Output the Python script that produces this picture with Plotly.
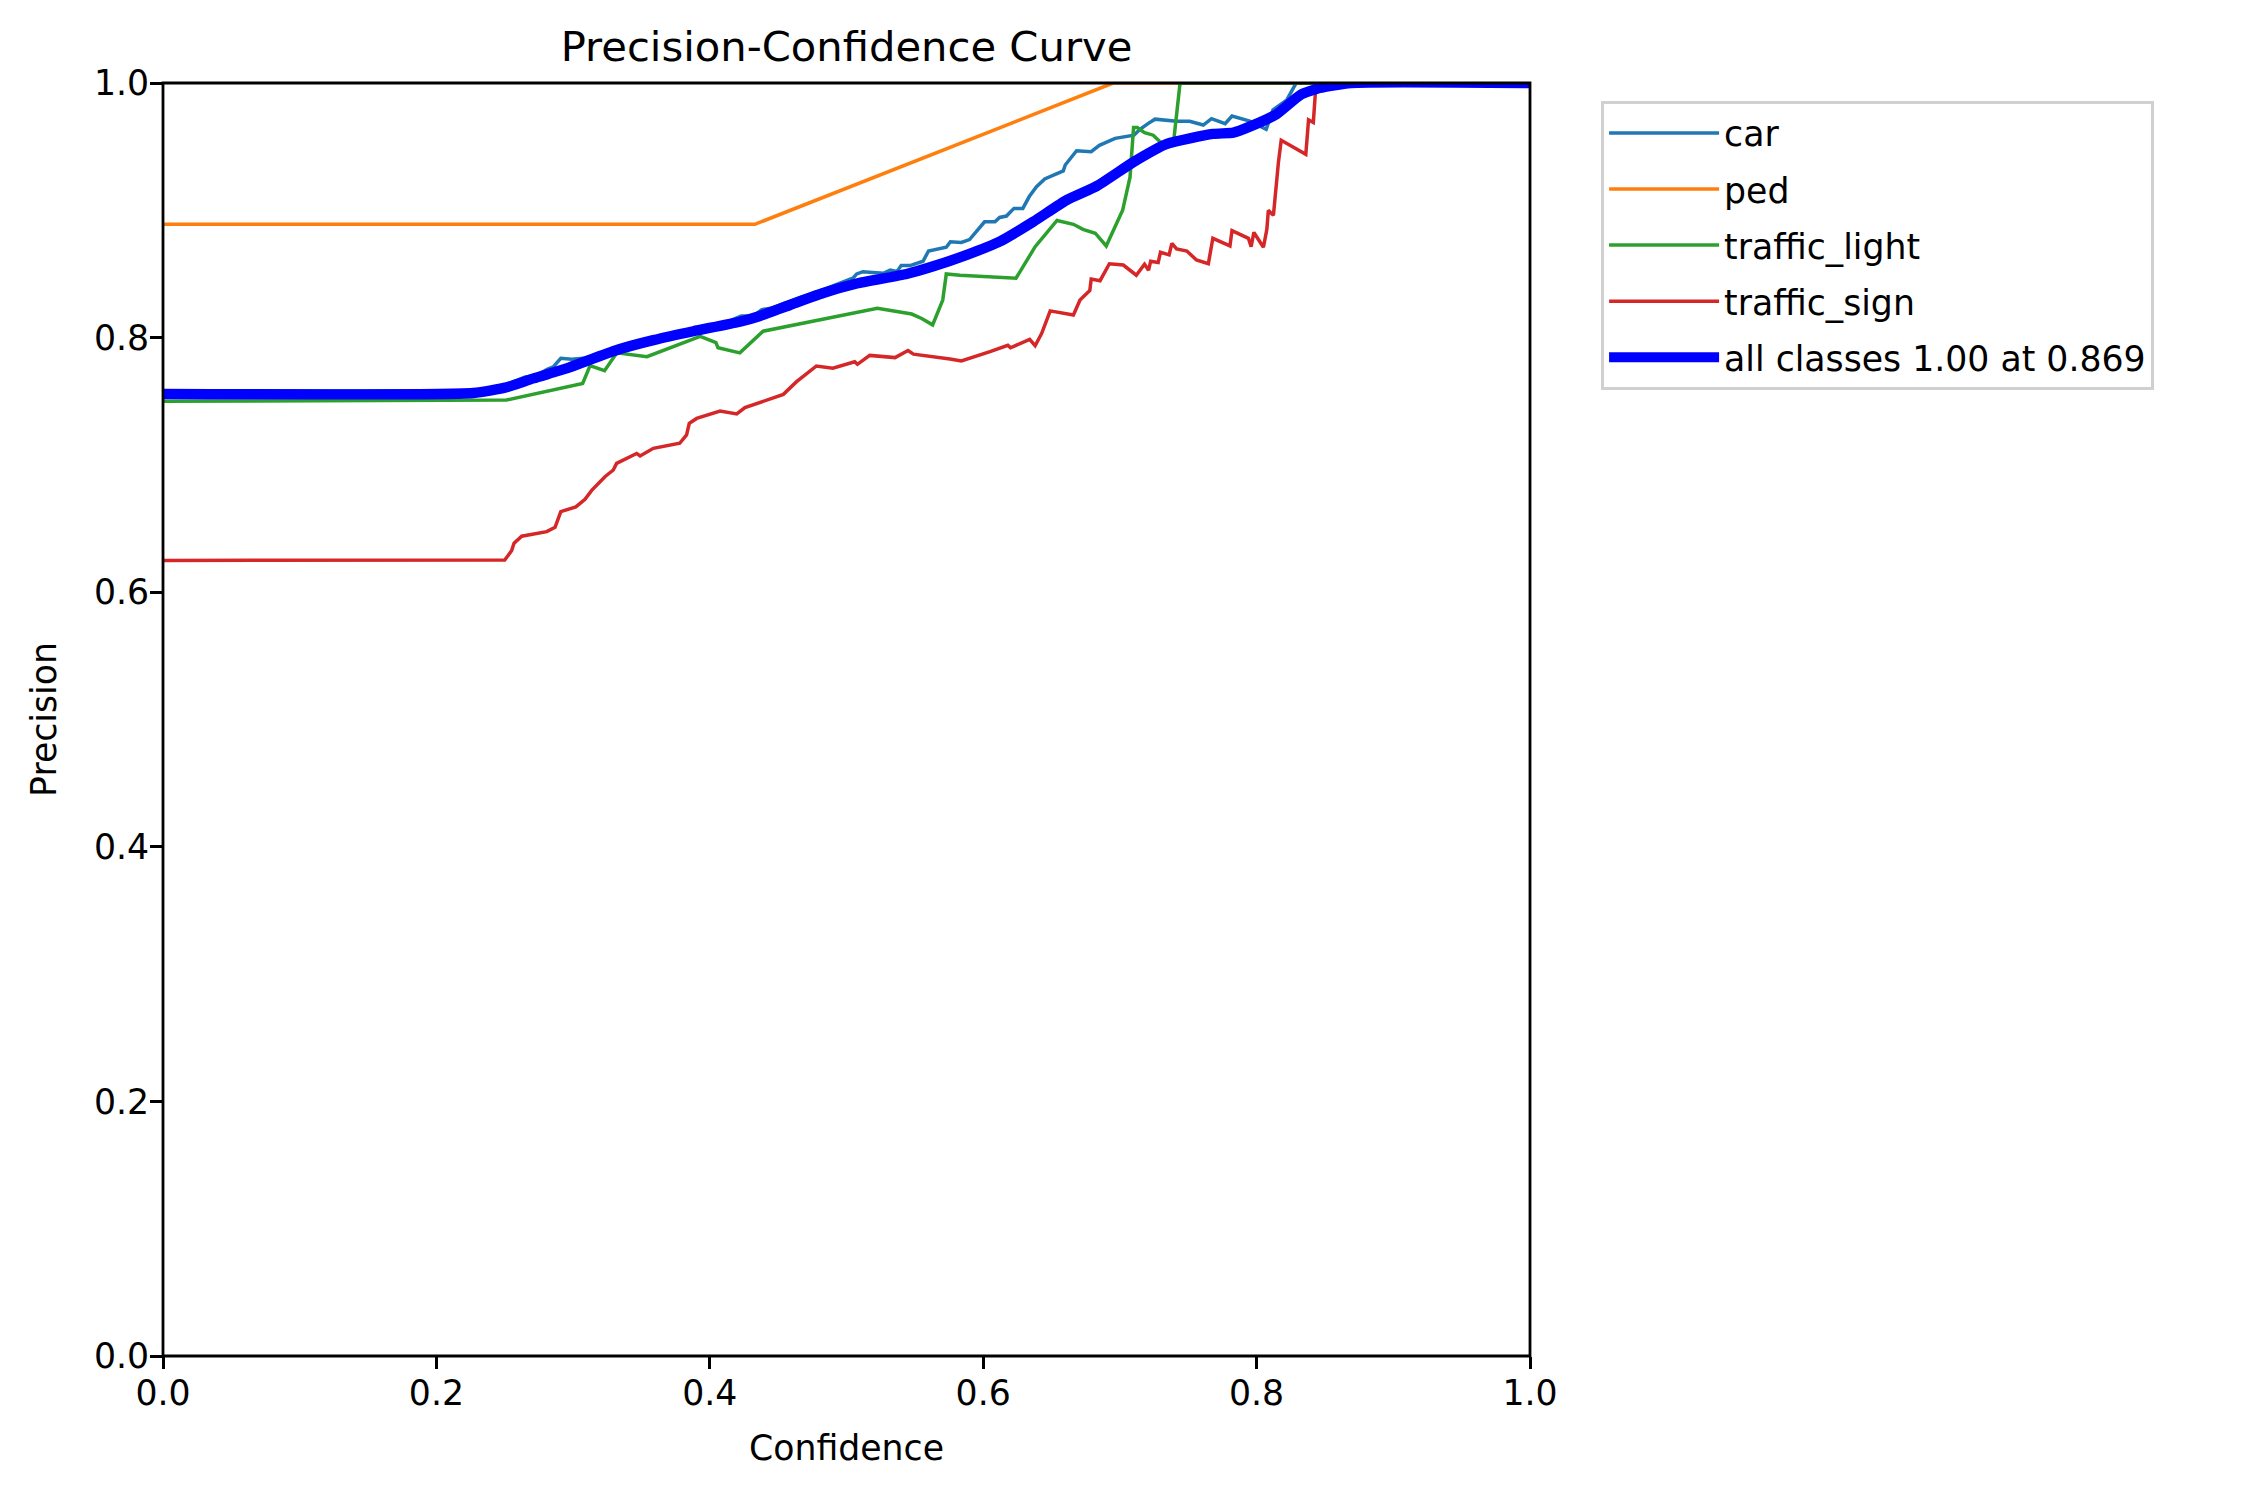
import plotly.graph_objects as go

# ---------------- data ----------------
car_conf = [0.0, 0.245, 0.255, 0.265, 0.273, 0.281, 0.2855, 0.291, 0.299, 0.3075,
            0.33, 0.36, 0.39, 0.41, 0.423, 0.432, 0.438, 0.445, 0.451, 0.466,
            0.484, 0.505, 0.5075, 0.512, 0.527, 0.532, 0.537, 0.540, 0.5465, 0.556,
            0.560, 0.566, 0.573, 0.576, 0.584, 0.590, 0.594, 0.601, 0.6086, 0.612,
            0.617, 0.6225, 0.629, 0.6337, 0.639, 0.645, 0.6586, 0.660, 0.6683, 0.679,
            0.685, 0.6965, 0.7103, 0.7147, 0.7208, 0.7257, 0.7415, 0.751, 0.761, 0.767,
            0.777, 0.782, 0.795, 0.807, 0.812, 0.822, 0.829, 1.0]
car_prec = [0.758, 0.758, 0.7646, 0.769, 0.770, 0.775, 0.777, 0.7837, 0.783, 0.7837,
            0.791, 0.799, 0.806, 0.811, 0.817, 0.817, 0.822, 0.823, 0.8256, 0.8316,
            0.838, 0.847, 0.850, 0.8518, 0.8505, 0.853, 0.852, 0.8566, 0.8566, 0.860,
            0.868, 0.8693, 0.871, 0.8753, 0.8748, 0.877, 0.882, 0.891, 0.891, 0.8944,
            0.8955, 0.9015, 0.9015, 0.9108, 0.9185, 0.9246, 0.931, 0.9356, 0.9468, 0.946,
            0.951, 0.9565, 0.959, 0.9636, 0.9683, 0.9716, 0.970, 0.970, 0.967, 0.972,
            0.968, 0.974, 0.970, 0.9636, 0.979, 0.9866, 1.0, 1.0]

ped_conf = [0.0, 0.433, 0.695, 1.0]
ped_prec = [0.889, 0.889, 1.0, 1.0]

light_conf = [0.0, 0.2514, 0.307, 0.3124, 0.323, 0.332, 0.354, 0.393, 0.4045, 0.406,
              0.422, 0.439, 0.5226, 0.5477, 0.555, 0.563, 0.5704, 0.573, 0.583, 0.624,
              0.638, 0.654, 0.666, 0.673, 0.682, 0.690, 0.702, 0.7074, 0.710, 0.7127,
              0.718, 0.7244, 0.7305, 0.735, 0.739, 0.744, 1.0]
light_prec = [0.75, 0.751, 0.764, 0.778, 0.774, 0.788, 0.785, 0.801, 0.796, 0.792,
              0.788, 0.805, 0.823, 0.8185, 0.815, 0.810, 0.8295, 0.850, 0.849, 0.8466,
              0.8714, 0.892, 0.889, 0.885, 0.882, 0.872, 0.900, 0.926, 0.965, 0.965,
              0.961, 0.959, 0.9526, 0.950, 0.951, 1.0, 1.0]

sign_conf = [0.0, 0.250, 0.255, 0.2568, 0.2624, 0.2807, 0.2868, 0.291, 0.302, 0.3087,
             0.3136, 0.3233, 0.3294, 0.3318, 0.3465, 0.349, 0.3587, 0.378, 0.383, 0.385,
             0.3904, 0.4075, 0.4197, 0.4257, 0.4538, 0.4635, 0.478, 0.490, 0.506, 0.508,
             0.517, 0.5355, 0.545, 0.549, 0.5757, 0.584, 0.605, 0.618, 0.620, 0.634,
             0.638, 0.6428, 0.649, 0.666, 0.6708, 0.678, 0.679, 0.6855, 0.6923, 0.7025,
             0.712, 0.718, 0.721, 0.7225, 0.728, 0.7297, 0.736, 0.738, 0.7415, 0.749,
             0.756, 0.7647, 0.768, 0.7805, 0.782, 0.794, 0.796, 0.798, 0.805, 0.8075,
             0.8086, 0.8123, 0.816, 0.818, 0.836, 0.838, 0.8415, 0.8435, 1.0]
sign_prec = [0.625, 0.6253, 0.6326, 0.6384, 0.644, 0.6476, 0.651, 0.6633, 0.667, 0.673,
             0.680, 0.6907, 0.696, 0.7012, 0.709, 0.707, 0.713, 0.717, 0.7235, 0.7326,
             0.7365, 0.7423, 0.740, 0.745, 0.7554, 0.7654, 0.7777, 0.776, 0.781, 0.779,
             0.786, 0.7843, 0.7898, 0.787, 0.7832, 0.7816, 0.789, 0.794, 0.792, 0.7986,
             0.7936, 0.8033, 0.821, 0.8177, 0.8295, 0.837, 0.846, 0.8447, 0.858, 0.857,
             0.849, 0.8576, 0.853, 0.860, 0.859, 0.867, 0.865, 0.874, 0.8696, 0.868,
             0.861, 0.858, 0.878, 0.872, 0.884, 0.878, 0.8714, 0.8826, 0.871, 0.885,
             0.900, 0.896, 0.938, 0.955, 0.944, 0.971, 0.969, 1.0, 1.0]

all_conf = [0.0, 0.227, 0.2514, 0.271, 0.2953, 0.315, 0.3343, 0.3587, 0.388, 0.422,
            0.4367, 0.4587, 0.483, 0.5075, 0.544, 0.5635, 0.588, 0.612, 0.6366, 0.661,
            0.683, 0.710, 0.734, 0.768, 0.783, 0.795, 0.8147, 0.832, 0.846, 0.869, 1.0]
all_prec = [0.7557, 0.7565, 0.761, 0.768, 0.7758, 0.7837, 0.791, 0.798, 0.805, 0.8125,
            0.817, 0.8256, 0.835, 0.8425, 0.850, 0.856, 0.865, 0.8754, 0.891, 0.908,
            0.919, 0.938, 0.952, 0.960, 0.961, 0.9657, 0.9756, 0.9906, 0.996, 1.0, 1.0]

class_names = ["car", "ped", "traffic_light", "traffic_sign"]
all_label = "all classes 1.00 at 0.869"
tick_vals = [0.0, 0.2, 0.4, 0.6, 0.8, 1.0]
tick_text = ["0.0", "0.2", "0.4", "0.6", "0.8", "1.0"]

# ---------------- figure ----------------
# page body has an 8px margin, so the figure is drawn 16px smaller and offset
W, H = 2247 - 16, 1497 - 16
PL, PR, PT, PB = 155, 1522, 75, 1348      # plot-area edges in figure pixels
FONT = "DejaVu Sans"
FS = 34.7

colors = ["#1f77b4", "#ff7f0e", "#2ca02c", "#d62728"]
series = [(car_conf, car_prec), (ped_conf, ped_prec),
          (light_conf, light_prec), (sign_conf, sign_prec)]

fig = go.Figure()
for name, (cx, cy), col in zip(class_names, series, colors):
    fig.add_trace(go.Scatter(x=cx, y=cy, mode="lines", name=name, legendgroup=name,
                             line=dict(color=col, width=3.5)))
fig.add_trace(go.Scatter(x=all_conf, y=all_prec, mode="lines", name=all_label,
                         legendgroup="all",
                         line=dict(color="#0000ff", width=10.4, shape="spline",
                                   smoothing=0.5)))

axis_common = dict(
    range=[0, 1], tickvals=tick_vals, ticktext=tick_text,
    ticks="outside", ticklen=12, tickwidth=2.8, tickcolor="black",
    showline=False, showgrid=False, zeroline=False,
    ticklabelstandoff=-6,
    tickfont=dict(family=FONT, size=FS, color="black"),
)

fig.update_layout(
    width=W, height=H, autosize=False,
    margin=dict(l=PL, r=W - PR, t=PT, b=H - PB),
    paper_bgcolor="white", plot_bgcolor="white",
    font=dict(family=FONT, size=FS, color="black"),
    title=dict(text="Precision-Confidence Curve", x=0.5, xref="paper",
               xanchor="center", y=1 - 38 / H, yref="container", yanchor="middle",
               font=dict(family=FONT, size=41.7, color="black")),
    xaxis=dict(**axis_common,
               title=dict(text="Confidence", standoff=24,
                          font=dict(family=FONT, size=FS, color="black"))),
    yaxis=dict(**axis_common,
               title=dict(text="Precision", standoff=26,
                          font=dict(family=FONT, size=FS, color="black"))),
    legend=dict(x=1.052, y=0.986, xanchor="left", yanchor="top",
                bgcolor="white", bordercolor="#d0d0d0", borderwidth=3,
                font=dict(family=FONT, size=FS, color="black"),
                itemwidth=110, tracegroupgap=8),
    shapes=[dict(type="rect", xref="paper", yref="paper", x0=0, x1=1, y0=0, y1=1,
                 line=dict(color="black", width=2.8), layer="above")],
    showlegend=True,
)

fig.write_html("out.html", config={"displayModeBar": False})
